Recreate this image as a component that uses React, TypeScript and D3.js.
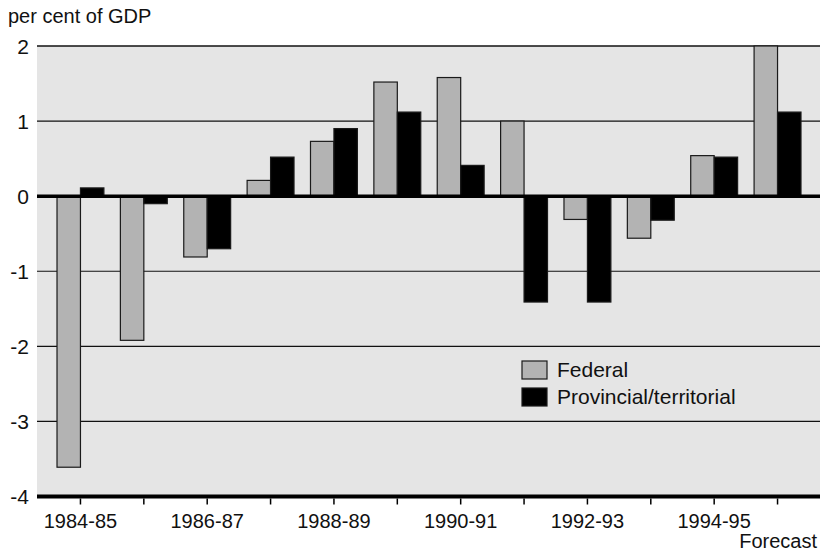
import * as d3 from "d3";
import { useEffect, useRef } from "react";

const width = 825;
const height = 551;

// fiscal years, one group of bars each
const years = [
  "1984-85", "1985-86", "1986-87", "1987-88", "1988-89", "1989-90",
  "1990-91", "1991-92", "1992-93", "1993-94", "1994-95", "1995-96",
];
const federal = [-3.61, -1.92, -0.81, 0.21, 0.73, 1.52, 1.58, 1.0, -0.31, -0.56, 0.54, 2.0];
const provincial = [0.11, -0.1, -0.7, 0.52, 0.9, 1.12, 0.41, -1.41, -1.41, -0.32, 0.52, 1.12];
const seriesNames = ["Federal", "Provincial/territorial"];
const seriesColors = ["#b3b3b3", "#000000"];
const yTicks = [-4, -3, -2, -1, 0, 1, 2];

const margin = { left: 37, right: 5, top: 46, bottom: 55 };
const font = "'Liberation Sans', Arial, sans-serif";

const App = () => {
  const svgRef = useRef<SVGSVGElement>(null);

  useEffect(() => {
    const svg = d3.select(svgRef.current);
    svg.selectAll("*").remove();

    const x0 = d3
      .scaleBand()
      .domain(years)
      .range([margin.left + 1, width - margin.right])
      .paddingInner(0.26)
      .paddingOuter(0.3);
    const x1 = d3
      .scaleBand()
      .domain(seriesNames)
      .range([0, x0.bandwidth()]);
    const y = d3
      .scaleLinear()
      .domain([-4, 2])
      .range([height - margin.bottom + 0.5, margin.top]);

    const data = years.map((yr, i) => ({
      year: yr,
      values: [federal[i], provincial[i]],
    }));

    // plot background
    svg
      .append("rect")
      .attr("x", margin.left)
      .attr("y", y(2))
      .attr("width", width - margin.right - margin.left)
      .attr("height", y(-4) - y(2))
      .attr("fill", "#e5e5e5");

    // gridlines
    svg
      .append("g")
      .selectAll("line")
      .data(yTicks.filter((t) => t !== 0 && t !== -4))
      .join("line")
      .attr("x1", margin.left)
      .attr("x2", width - margin.right)
      .attr("y1", (d) => y(d))
      .attr("y2", (d) => y(d))
      .attr("stroke", "#111")
      .attr("stroke-width", (d) => (d === 2 ? 1.6 : 1.1));

    // bars
    svg
      .append("g")
      .selectAll("g")
      .data(data)
      .join("g")
      .attr("transform", (d) => `translate(${x0(d.year)},0)`)
      .selectAll("rect")
      .data((d) => d.values.map((v, k) => ({ v, k })))
      .join("rect")
      .attr("x", (d) => x1(seriesNames[d.k])!)
      .attr("width", x1.bandwidth())
      .attr("y", (d) => y(Math.max(0, d.v)))
      .attr("height", (d) => Math.abs(y(d.v) - y(0)))
      .attr("fill", (d) => seriesColors[d.k])
      .attr("stroke", "#1a1a1a")
      .attr("stroke-width", 1.2);

    // zero line and baseline
    svg
      .append("line")
      .attr("x1", margin.left)
      .attr("x2", width - margin.right)
      .attr("y1", y(0))
      .attr("y2", y(0))
      .attr("stroke", "#000")
      .attr("stroke-width", 3.5);
    svg
      .append("line")
      .attr("x1", margin.left)
      .attr("x2", width - margin.right)
      .attr("y1", y(-4))
      .attr("y2", y(-4))
      .attr("stroke", "#000")
      .attr("stroke-width", 4);

    // x ticks at every group centre, labels on every other one
    const xAxis = svg.append("g");
    xAxis
      .selectAll("line")
      .data(years)
      .join("line")
      .attr("x1", (d) => x0(d)! + x0.bandwidth() / 2)
      .attr("x2", (d) => x0(d)! + x0.bandwidth() / 2)
      .attr("y1", y(-4) + 2)
      .attr("y2", y(-4) + 8)
      .attr("stroke", "#000")
      .attr("stroke-width", 1.5);
    xAxis
      .selectAll("text")
      .data(years.filter((_, i) => i % 2 === 0))
      .join("text")
      .attr("x", (d) => x0(d)! + x0.bandwidth() / 2)
      .attr("y", y(-4) + 31)
      .attr("text-anchor", "middle")
      .attr("font-family", font)
      .attr("font-size", 20)
      .attr("fill", "#111")
      .text((d) => d);

    svg
      .append("text")
      .attr("x", width - 8)
      .attr("y", y(-4) + 51)
      .attr("text-anchor", "end")
      .attr("font-family", font)
      .attr("font-size", 20)
      .attr("fill", "#111")
      .text("Forecast");

    // y labels
    svg
      .append("g")
      .selectAll("text")
      .data(yTicks)
      .join("text")
      .attr("x", margin.left - 8)
      .attr("y", (d) => y(d))
      .attr("dy", "0.36em")
      .attr("text-anchor", "end")
      .attr("font-family", font)
      .attr("font-size", 21)
      .attr("fill", "#111")
      .text((d) => d);

    svg
      .append("text")
      .attr("x", 8)
      .attr("y", 23)
      .attr("font-family", font)
      .attr("font-size", 20)
      .attr("fill", "#111")
      .text("per cent of GDP");

    // legend
    const legend = svg
      .append("g")
      .attr("transform", "translate(522,361)")
      .selectAll("g")
      .data(seriesNames)
      .join("g")
      .attr("transform", (_, i) => `translate(0,${i * 27})`);
    legend
      .append("rect")
      .attr("width", 25)
      .attr("height", 18)
      .attr("fill", (_, i) => seriesColors[i])
      .attr("stroke", "#1a1a1a")
      .attr("stroke-width", 1.2);
    legend
      .append("text")
      .attr("x", 35)
      .attr("y", 16)
      .attr("font-family", font)
      .attr("font-size", 21)
      .attr("fill", "#111")
      .text((d) => d);
  }, []);

  return (
    <svg
      ref={svgRef}
      width={width}
      height={height}
      style={{ position: "absolute", left: 0, top: 0, background: "#fff" }}
    />
  );
};

export default App;
